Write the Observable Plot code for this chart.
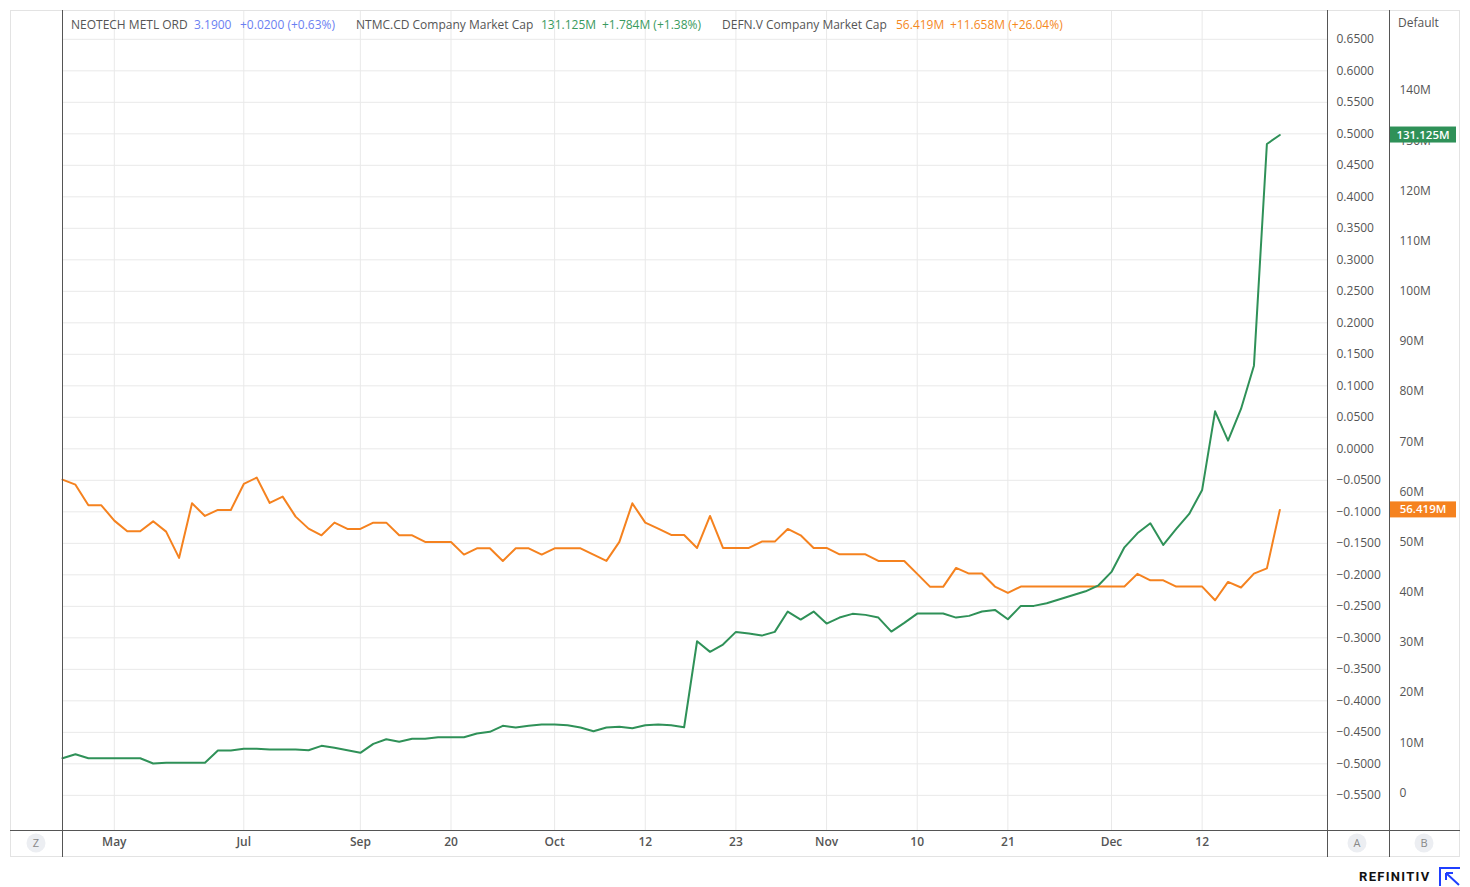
<!DOCTYPE html>
<html><head><meta charset="utf-8">
<script src="https://cdn.jsdelivr.net/npm/d3@7"></script>
<script src="https://cdn.jsdelivr.net/npm/@observablehq/plot@0.6"></script>
<style>
body{margin:0;background:#fff;font-family:"Open Sans",sans-serif;}
#wrap{position:relative;width:1470px;height:887px;overflow:hidden;}
.h{position:absolute;top:16px;font-size:12px;white-space:nowrap;line-height:18px;}
.g{color:#555;} .b{color:#6b7ff2;} .gr{color:#3a9a5e;} .o{color:#f5891f;}
</style></head><body><div id="wrap">
</div>
<script>
// NTMC.CD Company Market Cap (millions), one value per session
const ntmc = [6.93,7.73,6.93,6.93,6.93,6.93,6.93,5.88,6.02,6.02,6.02,6.02,8.47,8.47,8.80,8.80,8.67,8.67,8.67,8.53,
  9.40,9.00,8.53,8.01,9.80,10.72,10.20,10.80,10.80,11.12,11.12,11.12,11.85,12.19,13.39,13.05,13.39,13.65,13.65,13.51,
  13.05,12.31,13.05,13.19,12.91,13.51,13.65,13.51,13.11,30.24,28.13,29.58,32.11,31.77,31.37,32.11,36.16,34.56,36.16,33.76,
  34.96,35.70,35.50,34.96,32.17,33.90,35.76,35.76,35.76,34.96,35.30,36.16,36.49,34.62,37.29,37.29,37.81,38.61,39.40,40.20,
  41.39,44.06,48.96,51.75,53.75,49.44,52.63,55.62,60.40,76.06,70.22,76.53,85.16,129.341,131.125];
// DEFN.V Company Market Cap (millions)
const defn = [62.45,61.45,57.33,57.33,54.28,52.15,52.15,54.14,52.09,46.85,57.73,55.22,56.41,56.41,61.59,62.85,57.81,59.06,55.08,52.69,
  51.35,53.88,52.63,52.63,53.88,53.88,51.35,51.35,50.04,50.04,50.04,47.51,48.76,48.76,46.25,48.76,48.76,47.51,48.76,48.76,
  48.76,47.51,46.25,50.04,57.73,53.88,52.69,51.43,51.43,48.84,55.22,48.84,48.84,48.84,50.10,50.10,52.63,51.35,48.84,48.84,
  47.57,47.57,47.57,46.25,46.25,46.25,43.67,41.08,41.08,44.86,43.73,43.73,41.14,39.88,41.14,41.14,41.14,41.14,41.14,41.14,
  41.14,41.14,41.14,43.67,42.39,42.39,41.14,41.14,41.14,38.41,42.07,40.96,43.73,44.761,56.419];
// x-axis ticks (session index) and labels
const tickIdx = [4,14,23,30,38,45,52,59,66,73,81,88];
const tickLbl = ["May","Jul","Sep","20","Oct","12","23","Nov","10","21","Dec","12"];
// price axis (NEOTECH) ticks
const priceTicks = [0.65,0.60,0.55,0.50,0.45,0.40,0.35,0.30,0.25,0.20,0.15,0.10,0.05,0.00,
  -0.05,-0.10,-0.15,-0.20,-0.25,-0.30,-0.35,-0.40,-0.45,-0.50,-0.55];
// market cap axis ticks (millions)
const capTicks = [0,10,20,30,40,50,60,70,80,90,100,110,120,130,140];
// legend header
const legend = [
  {t:"NEOTECH METL ORD", c:"g", x:71},
  {t:"3.1900", c:"b", x:194},
  {t:"+0.0200 (+0.63%)", c:"b", x:240},
  {t:"NTMC.CD Company Market Cap", c:"g", x:356},
  {t:"131.125M", c:"gr", x:541},
  {t:"+1.784M (+1.38%)", c:"gr", x:602},
  {t:"DEFN.V Company Market Cap", c:"g", x:722},
  {t:"56.419M", c:"o", x:896},
  {t:"+11.658M (+26.04%)", c:"o", x:950}
];

const GREEN = "#2f9158", ORANGE = "#f5821f";
// price axis is aligned to the cap axis: cap = a + b * price
const pa = 68.59, pb = 125.55;
const toCap = v => pa + pb * v;
const fmtP = v => (v < -1e-9 ? "\u2212" : "") + Math.abs(v).toFixed(4);

const chart = Plot.plot({
  width: 1470, height: 887,
  marginLeft: 62, marginRight: 143, marginTop: 10, marginBottom: 57,
  style: {fontFamily: "'Open Sans', sans-serif", fontSize: "12px", color: "#555", background: "#fff"},
  x: {type: "linear", domain: [0, 97.68]},
  y: {type: "linear", domain: [-7.47, 155.94]},
  marks: [
    Plot.gridY(priceTicks.map(toCap), {stroke: "#e9e9e9", strokeOpacity: 1}),
    Plot.gridX(tickIdx, {stroke: "#e9e9e9", strokeOpacity: 1}),
    Plot.axisY(priceTicks.map(toCap), {anchor: "right", tickSize: 0, tickPadding: 9,
      tickFormat: d => fmtP(Math.round((d - pa) / pb * 100) / 100), fill: "#555"}),
    Plot.axisY(capTicks, {anchor: "right", tickSize: 0, tickPadding: 72,
      tickFormat: d => d === 0 ? "0" : d + "M", fill: "#555"}),
    Plot.axisX(tickIdx, {tickSize: 0, tickPadding: 7, fontWeight: 600, fill: "#555",
      tickFormat: d => tickLbl[tickIdx.indexOf(d)]}),
    Plot.line(defn, {x: (d, i) => i, y: d => d, stroke: ORANGE, strokeWidth: 2}),
    Plot.line(ntmc, {x: (d, i) => i, y: d => d, stroke: GREEN, strokeWidth: 2})
  ]
});
document.getElementById("wrap").appendChild(chart);

const sx = chart.scale("x"), sy = chart.scale("y");
const [x0, x1] = sx.range, [yb, yt] = sy.range;
const svg = d3.select(chart);
const g = svg.append("g").attr("text-anchor", "start");
// outer light frame
g.append("rect").attr("x", 10.5).attr("y", 10.5).attr("width", 1449).attr("height", 846)
  .attr("fill", "none").attr("stroke", "#e3e3e3");
// separators
const dark = "#555";
[x0, x1, x1 + 62].forEach(x => g.append("line").attr("x1", x + 0.5).attr("x2", x + 0.5)
  .attr("y1", 10).attr("y2", 857).attr("stroke", dark));
g.append("line").attr("x1", 10).attr("x2", 1460).attr("y1", yb + 0.5).attr("y2", yb + 0.5).attr("stroke", dark);

// last-value chips
function chip(v, txt, col) {
  const y = sy.apply(v);
  g.append("rect").attr("x", x1 + 63).attr("y", y - 8).attr("width", 66).attr("height", 16).attr("fill", col);
  g.append("text").attr("x", x1 + 96).attr("y", y).attr("dy", "0.35em").attr("text-anchor", "middle")
    .attr("fill", "#fff").attr("font-size", 11.5).attr("font-weight", 600).text(txt);
}
chip(ntmc[ntmc.length - 1], "131.125M", GREEN);
chip(defn[defn.length - 1], "56.419M", ORANGE);

// "Default" label
g.append("text").attr("x", x1 + 71).attr("y", 23).attr("dy", "0.35em").attr("text-anchor", "start")
  .attr("fill", "#555").text("Default");

// Z / A / B buttons
[[36, "Z"], [x1 + 30, "A"], [x1 + 97, "B"]].forEach(([x, t]) => {
  g.append("circle").attr("cx", x).attr("cy", yb + 13).attr("r", 9.5).attr("fill", "#eceef2");
  g.append("text").attr("x", x).attr("y", yb + 13).attr("dy", "0.35em").attr("text-anchor", "middle")
    .attr("fill", "#888").attr("font-size", 11).text(t);
});

// REFINITIV brand
g.append("text").attr("x", 1359).attr("y", 881).attr("text-anchor", "start").attr("font-family", "Roboto, sans-serif")
  .attr("font-weight", 700).attr("font-size", 13).attr("letter-spacing", 1.3).attr("fill", "#111").text("REFINITIV");
g.append("path").attr("d", "M1440,886 V868 H1460 M1446,873 L1459,885 M1446,873 H1453 M1446,873 V880")
  .attr("fill", "none").attr("stroke", "#1f3fff").attr("stroke-width", 2);

// header legend
const wrap = document.getElementById("wrap");
legend.forEach(l => {
  const s = document.createElement("span");
  s.className = "h " + l.c; s.style.left = l.x + "px"; s.textContent = l.t;
  wrap.appendChild(s);
});
</script>
</body></html>
